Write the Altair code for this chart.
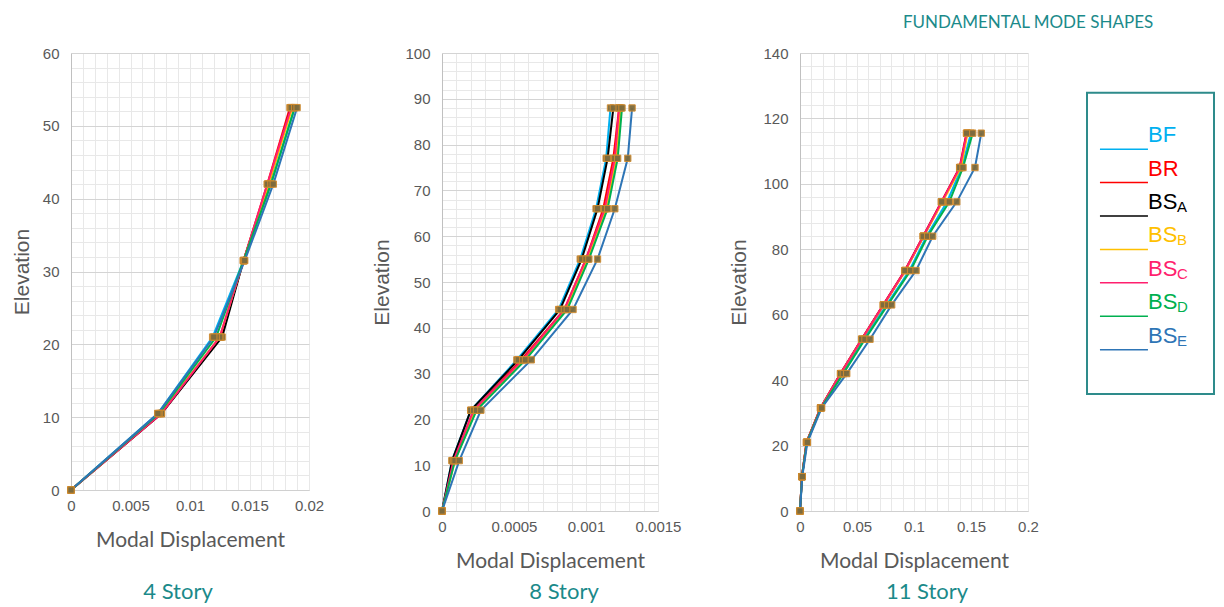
import altair as alt
import pandas as pd

# ---------------- data ----------------
series = ["BF", "BR", "BSA", "BSB", "BSC", "BSD", "BSE"]
colors = ["#00B0F0", "#FF0000", "#000000", "#FFC000", "#FF1F6E", "#00B050", "#2E75B6"]
leg_main = ["BF", "BR", "BS", "BS", "BS", "BS", "BS"]
leg_sub = ["", "", "A", "B", "C", "D", "E"]

# 4 story
elev4 = [0, 10.5, 21, 31.5, 42, 52.5]
d4_BF = [0, 0.0073, 0.0119, 0.0145, 0.0168, 0.0188]
d4_BR = [0, 0.0076, 0.0126, 0.0145, 0.0165, 0.0184]
d4_BSA = [0, 0.0076, 0.0127, 0.0145, 0.0166, 0.0185]
d4_BSB = [0, 0.0075, 0.0125, 0.0145, 0.0166, 0.0186]
d4_BSC = [0, 0.0076, 0.0125, 0.0145, 0.0165, 0.0185]
d4_BSD = [0, 0.0074, 0.0122, 0.0145, 0.0168, 0.0188]
d4_BSE = [0, 0.0073, 0.0120, 0.0146, 0.0170, 0.0190]

# 8 story
elev8 = [0, 11, 22, 33, 44, 55, 66, 77, 88]
d8_BF = [0, 0.00007, 0.00020, 0.00052, 0.00081, 0.00096, 0.00107, 0.00114, 0.00117]
d8_BR = [0, 0.00008, 0.00022, 0.00055, 0.00085, 0.00100, 0.00112, 0.00119, 0.00123]
d8_BSA = [0, 0.00007, 0.00020, 0.00053, 0.00082, 0.00097, 0.00108, 0.00115, 0.00119]
d8_BSB = [0, 0.00009, 0.00023, 0.00057, 0.00086, 0.00101, 0.00114, 0.00121, 0.00124]
d8_BSC = [0, 0.00008, 0.00022, 0.00056, 0.00085, 0.00100, 0.00113, 0.00120, 0.00123]
d8_BSD = [0, 0.00009, 0.00024, 0.00058, 0.00087, 0.00102, 0.00115, 0.00122, 0.00125]
d8_BSE = [0, 0.00012, 0.00027, 0.00062, 0.00091, 0.00108, 0.00120, 0.00129, 0.00132]

# 11 story
elev11 = [0, 10.5, 21, 31.5, 42, 52.5, 63, 73.5, 84, 94.5, 105, 115.5]
d11_BF = [0, 0.0018, 0.0059, 0.0183, 0.0370, 0.0560, 0.0760, 0.0960, 0.1110, 0.1290, 0.1420, 0.1500]
d11_BR = [0, 0.0017, 0.0057, 0.0180, 0.0355, 0.0540, 0.0730, 0.0920, 0.1080, 0.1240, 0.1400, 0.1460]
d11_BSA = [0, 0.0017, 0.0058, 0.0181, 0.0357, 0.0542, 0.0733, 0.0923, 0.1083, 0.1245, 0.1405, 0.1465]
d11_BSB = [0, 0.0017, 0.0058, 0.0181, 0.0358, 0.0543, 0.0735, 0.0925, 0.1085, 0.1250, 0.1412, 0.1470]
d11_BSC = [0, 0.0017, 0.0057, 0.0180, 0.0356, 0.0541, 0.0731, 0.0921, 0.1081, 0.1242, 0.1402, 0.1462]
d11_BSD = [0, 0.0018, 0.0060, 0.0185, 0.0380, 0.0570, 0.0770, 0.0970, 0.1120, 0.1310, 0.1430, 0.1515]
d11_BSE = [0, 0.0020, 0.0065, 0.0190, 0.0410, 0.0614, 0.0804, 0.1018, 0.1164, 0.1375, 0.1535, 0.1590]

TEAL = "#1B8A8A"
GREY = "#595959"


def make_df(elev, cols):
    rows = []
    for s, vals in zip(series, cols):
        for e, v in zip(elev, vals):
            rows.append({"series": s, "elev": e, "disp": v})
    return pd.DataFrame(rows)


def major_expr(step):
    return f"abs(datum.value/{step} - round(datum.value/{step})) < 1e-6"


def panel(df, xmax, xmajor, xminor, ymax, ymajor, yminor, w, h, title,
          ext, tpad, toff, tdx):
    nx = int(round(xmax / xminor))
    ny = int(round(ymax / yminor))
    xvals = [round(i * xminor, 8) for i in range(nx + 1)]
    yvals = [round(i * yminor, 8) for i in range(ny + 1)]
    xaxis = alt.Axis(
        values=xvals, tickCount=len(xvals) + 2, format="~r",
        labelExpr=f"{major_expr(xmajor)} ? datum.label : ''",
        grid=True, gridColor="#e8e8e8", gridWidth=1, ticks=False,
        domainColor="#d0d0d0", labelColor=GREY, labelFont="Liberation Sans",
        labelFontSize=15, labelPadding=8, labelOverlap=False, labelFlush=False,
        title="Modal Displacement", titleFont="Lato", titleFontSize=21,
        titleFontWeight="normal", titleColor=GREY, titlePadding=16,
    )
    yaxis = alt.Axis(
        values=yvals, tickCount=len(yvals) + 2, format="~r",
        labelExpr=f"{major_expr(ymajor)} ? datum.label : ''",
        grid=True,
        gridColor={"condition": {"test": major_expr(ymajor), "value": "#d4d4d4"},
                   "value": "#e8e8e8"},
        gridWidth=1, ticks=False, domainColor="#c0c0c0", labelColor=GREY,
        labelFont="Liberation Sans", labelFontSize=15, labelPadding=12,
        labelOverlap=False, labelFlush=False, minExtent=ext, maxExtent=ext,
        title="Elevation", titleFont="Liberation Sans", titleFontSize=21,
        titleFontWeight="normal", titleColor=GREY, titlePadding=tpad,
    )
    x = alt.X("disp:Q", scale=alt.Scale(domain=[0, xmax], nice=False), axis=xaxis)
    y = alt.Y("elev:Q", scale=alt.Scale(domain=[0, ymax], nice=False), axis=yaxis)
    color = alt.Color("series:N", scale=alt.Scale(domain=series, range=colors), legend=None)
    base = alt.Chart(df)
    lines = base.mark_line(strokeWidth=2).encode(x=x, y=y, color=color, order="elev:Q")
    pts = base.mark_point(shape="square", filled=True, size=40, fill="#7d6b3d",
                          stroke="#d08b2e", strokeWidth=1, opacity=0.95).encode(
        x="disp:Q", y="elev:Q")
    return alt.layer(lines, pts).properties(
        width=w, height=h,
        title=alt.TitleParams(title, orient="bottom", anchor="middle", frame="group",
                              offset=toff, dx=tdx, color=TEAL, font="Lato",
                              fontSize=22, fontWeight="normal"),
    )


p4 = panel(make_df(elev4, [d4_BF, d4_BR, d4_BSA, d4_BSB, d4_BSC, d4_BSD, d4_BSE]),
           0.02, 0.005, 0.001, 60, 10, 2, 238, 437, "4 Story", 28, 11, 32, -12)
p8 = panel(make_df(elev8, [d8_BF, d8_BR, d8_BSA, d8_BSB, d8_BSC, d8_BSD, d8_BSE]),
           0.0015, 0.0005, 0.0001, 100, 10, 2, 216, 458, "8 Story", 38, 12, 11, 14)
p11 = panel(make_df(elev11, [d11_BF, d11_BR, d11_BSA, d11_BSB, d11_BSC, d11_BSD, d11_BSE]),
            0.2, 0.05, 0.01, 140, 20, 4, 228, 458, "11 Story", 38, 13, 11, 13)

# ---------------- custom legend ----------------
leg_df = pd.DataFrame({"name": leg_main, "sub": leg_sub, "color": colors,
                       "row": list(range(len(series)))})
box_df = pd.DataFrame({"top": [-1.69], "bottom": [7.33]})
ly = alt.Scale(domain=[-2.88, 10.83], reverse=True)
lxs = alt.Scale(domain=[0, 1])
leg_base = alt.Chart(leg_df)
box = alt.Chart(box_df).mark_rect(fill="white", stroke="#2E8B8B", strokeWidth=2).encode(
    x=alt.datum(0, scale=lxs, axis=None), x2=alt.datum(1),
    y=alt.Y("top:Q", scale=ly, axis=None), y2="bottom:Q")
rules = leg_base.mark_rule(strokeWidth=1.5).encode(
    x=alt.datum(0.102), x2=alt.datum(0.48),
    y=alt.Y("row:Q", scale=ly, axis=None),
    color=alt.Color("color:N", scale=None))
txt = leg_base.mark_text(align="left", baseline="alphabetic", dy=-7, fontSize=22,
                         font="Liberation Sans").encode(
    x=alt.datum(0.48), y=alt.Y("row:Q", scale=ly, axis=None), text="name:N",
    color=alt.Color("color:N", scale=None))
subtxt = leg_base.mark_text(align="left", baseline="alphabetic", dx=29, dy=-4,
                            fontSize=15, font="Liberation Sans").encode(
    x=alt.datum(0.48), y=alt.Y("row:Q", scale=ly, axis=None), text="sub:N",
    color=alt.Color("color:N", scale=None))
legend = alt.layer(box, rules, txt, subtxt).properties(width=127, height=458)

chart = alt.hconcat(p4, p8, p11, legend, spacing=47).properties(
    title=alt.TitleParams("FUNDAMENTAL MODE SHAPES", anchor="start", dx=892,
                          fontSize=17, font="Lato", color=TEAL, fontWeight="normal",
                          offset=14),
    padding={"left": 3, "top": 6, "right": 0, "bottom": 0},
).configure_view(stroke=None).configure_concat(spacing=47)

chart.save("out.html", embed_options={"renderer": "svg", "actions": False})
